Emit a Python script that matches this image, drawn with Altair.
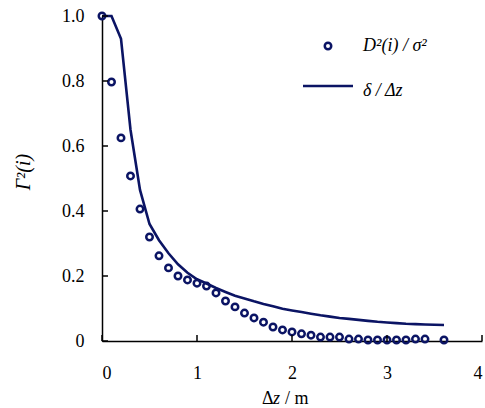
import altair as alt
import pandas as pd

# ---- data ----
dz_points = [0.0, 0.1, 0.2, 0.3, 0.4, 0.5, 0.6, 0.7, 0.8, 0.9,
             1.0, 1.1, 1.2, 1.3, 1.4, 1.5, 1.6, 1.7, 1.8, 1.9,
             2.0, 2.1, 2.2, 2.3, 2.4, 2.5, 2.6, 2.7, 2.8, 2.9,
             3.0, 3.1, 3.2, 3.3, 3.4, 3.6]
d2_sigma2 = [1.0, 0.797, 0.625, 0.508, 0.406, 0.32, 0.262, 0.225, 0.2, 0.188,
             0.178, 0.169, 0.148, 0.123, 0.105, 0.086, 0.071, 0.058, 0.043, 0.034,
             0.028, 0.022, 0.018, 0.012, 0.012, 0.012, 0.006, 0.006, 0.003, 0.003,
             0.003, 0.003, 0.003, 0.006, 0.006, 0.003]

dz_line = [0.0, 0.1, 0.2, 0.3, 0.4, 0.5, 0.6, 0.7, 0.8, 0.9,
           1.0, 1.1, 1.2, 1.3, 1.4, 1.5, 1.6, 1.7, 1.8, 1.9,
           2.0, 2.1, 2.2, 2.3, 2.4, 2.5, 2.6, 2.7, 2.8, 2.9,
           3.0, 3.1, 3.2, 3.3, 3.4, 3.5, 3.6]
delta_dz = [1.0, 1.0, 0.93, 0.65, 0.465, 0.36, 0.31, 0.27, 0.236, 0.21,
            0.19, 0.177, 0.163, 0.151, 0.139, 0.131, 0.122, 0.114, 0.107, 0.099,
            0.094, 0.089, 0.084, 0.079, 0.075, 0.071, 0.068, 0.065, 0.062, 0.059,
            0.057, 0.055, 0.053, 0.052, 0.051, 0.05, 0.049]

x_ticks = [0, 1, 2, 3, 4]
y_ticks = [0, 0.2, 0.4, 0.6, 0.8, 1.0]

FONT = "Liberation Serif, Times New Roman, serif"
NAVY = "#0b1464"

pts = pd.DataFrame({"dz": dz_points, "v": d2_sigma2})
ln = pd.DataFrame({"dz": dz_line, "v": delta_dz})

xs = alt.Scale(domain=[0, 4], nice=False, zero=False)
ys = alt.Scale(domain=[0, 1], nice=False)

x_axis = alt.Axis(values=x_ticks, format="d", tickSize=0, labelPadding=23,
                  labelFont=FONT, labelFontSize=18, labelColor="black",
                  domainColor="black", domainWidth=1.5, grid=False, title=None)
y_axis = alt.Axis(values=y_ticks, tickSize=0, labelPadding=18,
                  labelExpr="datum.value == 0 ? '0' : format(datum.value, '.1f')",
                  labelFont=FONT, labelFontSize=18, labelColor="black",
                  domainColor="black", domainWidth=1.5, grid=False, title=None)

line = alt.Chart(ln).mark_line(color=NAVY, strokeWidth=2.6).encode(
    x=alt.X("dz:Q", scale=xs, axis=x_axis),
    y=alt.Y("v:Q", scale=ys, axis=y_axis),
)
points = alt.Chart(pts).mark_point(shape="circle", filled=False, color=NAVY,
                                   size=42, strokeWidth=2.5, opacity=1).encode(
    x=alt.X("dz:Q", scale=xs, axis=x_axis),
    y=alt.Y("v:Q", scale=ys, axis=y_axis),
)

ytick = alt.Chart(pd.DataFrame({"dz": [0] * len(y_ticks), "v": y_ticks})).mark_rule(
    color="black", strokeWidth=1.5).encode(
    y=alt.Y("v:Q", scale=ys, axis=y_axis), x=alt.value(0), x2=alt.value(6))
xtick = alt.Chart(pd.DataFrame({"dz": x_ticks})).mark_rule(
    color="black", strokeWidth=1.5).encode(
    x=alt.X("dz:Q", scale=xs, axis=x_axis), y=alt.value(325), y2=alt.value(319))

one = pd.DataFrame({"a": [0]})

leg_pt = alt.Chart(one).mark_point(shape="circle", filled=False, color=NAVY,
                                   size=42, strokeWidth=2.5, opacity=1).encode(
    x=alt.value(226), y=alt.value(30))
leg_ln = alt.Chart(one).mark_rule(color=NAVY, strokeWidth=2.6).encode(
    x=alt.value(201), x2=alt.value(251), y=alt.value(70))
leg_t1 = alt.Chart(one).mark_text(text="D²(i) / σ²", font=FONT, fontSize=18,
                                  fontStyle="italic", align="left",
                                  baseline="alphabetic", color="black").encode(
    x=alt.value(261), y=alt.value(35))
leg_t2 = alt.Chart(one).mark_text(text="δ / Δz", font=FONT, fontSize=18,
                                  fontStyle="italic", align="left",
                                  baseline="alphabetic", color="black").encode(
    x=alt.value(261), y=alt.value(80))

ytitle = alt.Chart(one).mark_text(text="Γ²(i)", font=FONT, fontSize=20,
                                  fontStyle="italic", angle=270, align="center",
                                  baseline="alphabetic", color="black").encode(
    x=alt.value(-72), y=alt.value(156))

xt_a = alt.Chart(one).mark_text(text="Δ", font=FONT, fontSize=18, align="left",
                                baseline="alphabetic", color="black").encode(
    x=alt.value(160), y=alt.value(388))
xt_b = alt.Chart(one).mark_text(text="z", font=FONT, fontSize=18, fontStyle="italic",
                                align="left", baseline="alphabetic", color="black").encode(
    x=alt.value(171), y=alt.value(388))
xt_c = alt.Chart(one).mark_text(text="/ m", font=FONT, fontSize=18, align="left",
                                baseline="alphabetic", color="black").encode(
    x=alt.value(183), y=alt.value(388))

chart = alt.layer(
    line, points, ytick, xtick, leg_pt, leg_ln, leg_t1, leg_t2, ytitle, xt_a, xt_b, xt_c
).properties(
    width=380, height=325,
    padding={"left": 102, "top": 16, "right": 3, "bottom": 67},
    autosize=alt.AutoSizeParams(type="none"),
    background="white",
).configure_view(stroke=None)

chart.save("out.html", embed_options={"renderer": "svg", "actions": False})
